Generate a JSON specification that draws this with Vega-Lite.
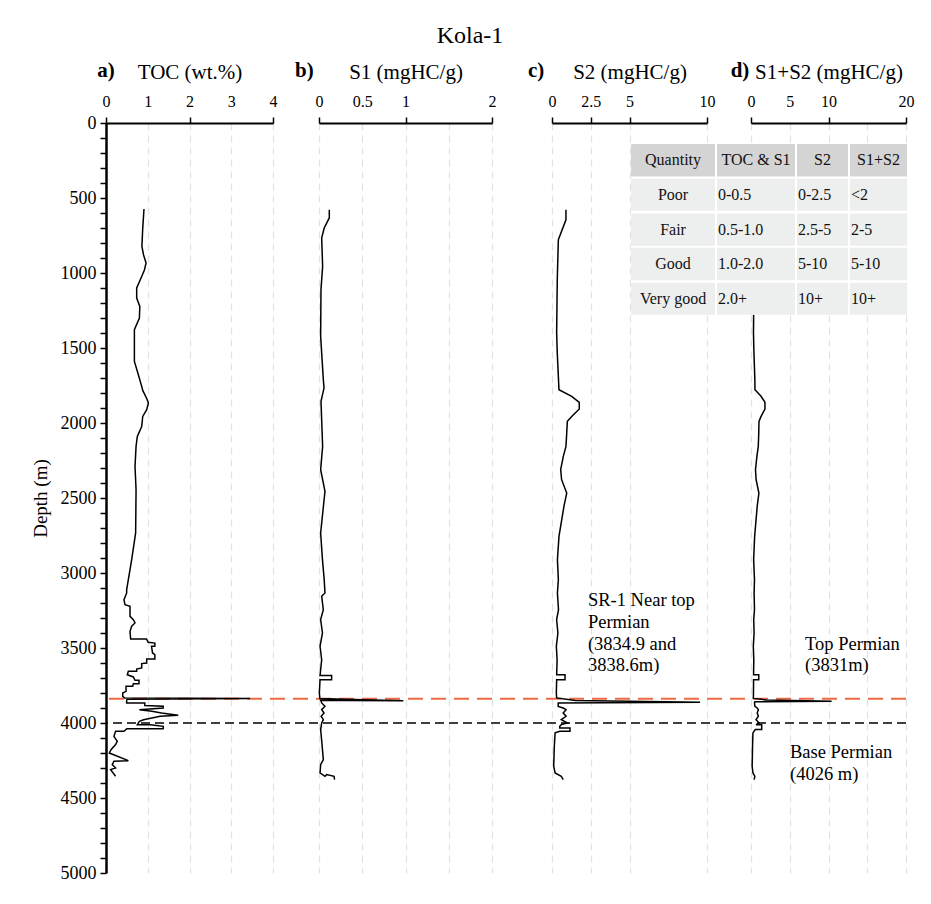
{
  "$schema": "https://vega.github.io/schema/vega-lite/v6.json",
  "width": 800,
  "height": 750,
  "autosize": "none",
  "padding": {"left": 106, "top": 123, "right": 25, "bottom": 31},
  "background": "white",
  "title": {"text": "Kola-1", "font": "Liberation Serif", "fontSize": 24, "fontWeight": "normal", "color": "black", "anchor": "middle", "dx": -36, "offset": 12},
  "config": {
    "font": "Liberation Serif",
    "view": {"stroke": null},
    "axis": {"labelFont": "Liberation Serif", "titleFont": "Liberation Serif", "labelColor": "black", "titleColor": "black", "domainColor": "black", "tickColor": "black", "titleFontWeight": "normal", "labelFlush": false, "labelOverlap": false, "labelBound": false},
    "axisX": {"labelFontSize": 16, "titleFontSize": 21, "domainWidth": 2, "tickSize": 6, "tickWidth": 1.5, "labelPadding": 8, "titlePadding": 11, "grid": true, "gridColor": "#e2e2e2", "gridDash": [7, 5], "gridWidth": 1.2},
    "axisY": {"labelFontSize": 18, "titleFontSize": 19, "domainWidth": 2.5, "tickSize": 6, "tickWidth": 1.5, "labelPadding": 4, "titlePadding": 10, "grid": false}
  },
  "datasets": {
    "toc": [
      {"d":573,"v":0.91},{"d":700,"v":0.88},{"d":823,"v":0.86},{"d":880,"v":0.9},{"d":933,"v":0.96},{"d":980,"v":0.92},{"d":1023,"v":0.855},{"d":1100,"v":0.735},{"d":1167,"v":0.735},{"d":1223,"v":0.81},{"d":1300,"v":0.8},{"d":1378,"v":0.68},{"d":1589,"v":0.68},{"d":1678,"v":0.775},{"d":1756,"v":0.855},{"d":1783,"v":0.88},{"d":1840,"v":0.98},{"d":1867,"v":1.015},{"d":1911,"v":0.975},{"d":1956,"v":0.88},{"d":2023,"v":0.855},{"d":2089,"v":0.75},{"d":2156,"v":0.72},{"d":2289,"v":0.695},{"d":2445,"v":0.72},{"d":2733,"v":0.71},{"d":2911,"v":0.615},{"d":3111,"v":0.495},{"d":3133,"v":0.495},{"d":3178,"v":0.43},{"d":3211,"v":0.455},{"d":3222,"v":0.575},{"d":3289,"v":0.575},{"d":3311,"v":0.655},{"d":3333,"v":0.695},{"d":3355,"v":0.615},{"d":3389,"v":0.575},{"d":3440,"v":0.59},{"d":3440,"v":0.97},{"d":3462,"v":1.01},{"d":3467,"v":1.17},{"d":3489,"v":1.17},{"d":3489,"v":1.09},{"d":3533,"v":1.115},{"d":3544,"v":1.17},{"d":3573,"v":1.17},{"d":3573,"v":0.975},{"d":3600,"v":0.975},{"d":3604,"v":0.855},{"d":3633,"v":0.855},{"d":3640,"v":0.735},{"d":3655,"v":0.735},{"d":3655,"v":0.535},{"d":3678,"v":0.51},{"d":3693,"v":0.655},{"d":3715,"v":0.695},{"d":3715,"v":0.79},{"d":3738,"v":0.79},{"d":3738,"v":0.655},{"d":3755,"v":0.64},{"d":3755,"v":0.48},{"d":3789,"v":0.48},{"d":3800,"v":0.4},{"d":3822,"v":0.4},{"d":3834,"v":0.45},{"d":3837,"v":3.45},{"d":3841,"v":0.5},{"d":3855,"v":0.495},{"d":3866,"v":0.495},{"d":3866,"v":0.93},{"d":3884,"v":0.93},{"d":3888,"v":1.37},{"d":3900,"v":1.37},{"d":3911,"v":0.8},{"d":3922,"v":1.1},{"d":3933,"v":1.33},{"d":3949,"v":1.73},{"d":3955,"v":1.3},{"d":3978,"v":0.9},{"d":3989,"v":0.8},{"d":4011,"v":0.75},{"d":4011,"v":1.07},{"d":4022,"v":1.37},{"d":4038,"v":1.37},{"d":4038,"v":0.5},{"d":4055,"v":0.43},{"d":4055,"v":0.23},{"d":4089,"v":0.19},{"d":4122,"v":0.27},{"d":4144,"v":0.23},{"d":4178,"v":0.12},{"d":4200,"v":0.08},{"d":4251,"v":0.535},{"d":4255,"v":0.19},{"d":4278,"v":0.15},{"d":4300,"v":0.23},{"d":4311,"v":0.11},{"d":4355,"v":0.23}
    ],
    "s1": [
      {"d":578,"v":0.119},{"d":633,"v":0.119},{"d":700,"v":0.06},{"d":767,"v":0.031},{"d":956,"v":0.042},{"d":1111,"v":0.023},{"d":1422,"v":0.019},{"d":1711,"v":0.05},{"d":1767,"v":0.058},{"d":1856,"v":0.023},{"d":2156,"v":0.042},{"d":2311,"v":0.019},{"d":2456,"v":0.069},{"d":2733,"v":0.019},{"d":2911,"v":0.04},{"d":3044,"v":0.06},{"d":3133,"v":0.069},{"d":3155,"v":0.031},{"d":3244,"v":0.05},{"d":3311,"v":0.019},{"d":3400,"v":0.04},{"d":3489,"v":0.012},{"d":3578,"v":0.031},{"d":3684,"v":0.012},{"d":3684,"v":0.146},{"d":3711,"v":0.146},{"d":3711,"v":0.012},{"d":3800,"v":0.004},{"d":3836,"v":0.01},{"d":3842,"v":0.3},{"d":3852,"v":0.975},{"d":3850,"v":0.3},{"d":3848,"v":0.02},{"d":3866,"v":0.031},{"d":3889,"v":0.069},{"d":3911,"v":0.031},{"d":3933,"v":0.058},{"d":3955,"v":0.025},{"d":3978,"v":0.05},{"d":4000,"v":0.031},{"d":4044,"v":0.019},{"d":4111,"v":0.03},{"d":4244,"v":0.05},{"d":4278,"v":0.019},{"d":4333,"v":0.012},{"d":4355,"v":0.069},{"d":4344,"v":0.089},{"d":4355,"v":0.174},{"d":4378,"v":0.18}
    ],
    "s2": [
      {"d":578,"v":0.9},{"d":645,"v":0.9},{"d":778,"v":0.41},{"d":1045,"v":0.34},{"d":1400,"v":0.3},{"d":1533,"v":0.34},{"d":1778,"v":0.45},{"d":1822,"v":1.27},{"d":1862,"v":1.76},{"d":1907,"v":1.76},{"d":1956,"v":1.27},{"d":1989,"v":0.99},{"d":2067,"v":0.95},{"d":2156,"v":0.9},{"d":2222,"v":0.73},{"d":2311,"v":0.56},{"d":2378,"v":0.62},{"d":2467,"v":0.95},{"d":2556,"v":0.77},{"d":2756,"v":0.45},{"d":2911,"v":0.35},{"d":3044,"v":0.41},{"d":3133,"v":0.35},{"d":3244,"v":0.42},{"d":3311,"v":0.3},{"d":3400,"v":0.38},{"d":3489,"v":0.28},{"d":3578,"v":0.33},{"d":3678,"v":0.3},{"d":3678,"v":0.84},{"d":3711,"v":0.84},{"d":3711,"v":0.3},{"d":3800,"v":0.28},{"d":3833,"v":0.3},{"d":3850,"v":1.5},{"d":3862,"v":9.55},{"d":3866,"v":0.4},{"d":3889,"v":0.4},{"d":3900,"v":0.72},{"d":3911,"v":0.91},{"d":3933,"v":0.72},{"d":3955,"v":0.91},{"d":3978,"v":0.6},{"d":4000,"v":1.0},{"d":4011,"v":0.6},{"d":4022,"v":0.5},{"d":4033,"v":0.5},{"d":4033,"v":1.16},{"d":4055,"v":1.16},{"d":4055,"v":0.5},{"d":4066,"v":0.2},{"d":4155,"v":0.15},{"d":4289,"v":0.11},{"d":4333,"v":0.2},{"d":4355,"v":0.6},{"d":4378,"v":0.72}
    ],
    "s12": [
      {"d":578,"v":1.0},{"d":645,"v":1.0},{"d":778,"v":0.45},{"d":1045,"v":0.38},{"d":1400,"v":0.32},{"d":1533,"v":0.38},{"d":1711,"v":0.5},{"d":1778,"v":0.51},{"d":1822,"v":1.3},{"d":1862,"v":1.8},{"d":1907,"v":1.8},{"d":1956,"v":1.3},{"d":1989,"v":1.03},{"d":2067,"v":1.0},{"d":2156,"v":0.94},{"d":2222,"v":0.76},{"d":2311,"v":0.58},{"d":2378,"v":0.66},{"d":2467,"v":1.02},{"d":2556,"v":0.8},{"d":2756,"v":0.47},{"d":2911,"v":0.34},{"d":3044,"v":0.45},{"d":3133,"v":0.4},{"d":3244,"v":0.45},{"d":3311,"v":0.35},{"d":3400,"v":0.4},{"d":3489,"v":0.3},{"d":3578,"v":0.36},{"d":3678,"v":0.33},{"d":3678,"v":1.0},{"d":3711,"v":1.0},{"d":3711,"v":0.33},{"d":3800,"v":0.32},{"d":3836,"v":0.3},{"d":3846,"v":2.0},{"d":3855,"v":10.4},{"d":3858,"v":0.5},{"d":3866,"v":0.45},{"d":3889,"v":0.5},{"d":3900,"v":0.8},{"d":3911,"v":0.95},{"d":3933,"v":0.8},{"d":3955,"v":0.95},{"d":3978,"v":0.65},{"d":4000,"v":1.05},{"d":4011,"v":0.65},{"d":4011,"v":1.38},{"d":4044,"v":1.38},{"d":4044,"v":0.55},{"d":4066,"v":0.25},{"d":4155,"v":0.2},{"d":4289,"v":0.15},{"d":4333,"v":0.25},{"d":4355,"v":0.5},{"d":4378,"v":0.4}
    ],
    "cells": [
      {"v":-15.48,"v2":20.13,"d":140,"d2":1278,"kind":"back"},
      {"v":-15.48,"v2":-4.65,"d":140,"d2":356,"kind":"header"},{"v":-4.39,"v2":5.68,"d":140,"d2":356,"kind":"header"},{"v":5.94,"v2":12.52,"d":140,"d2":356,"kind":"header"},{"v":12.77,"v2":20.13,"d":140,"d2":356,"kind":"header"},
      {"v":-15.48,"v2":-4.65,"d":371,"d2":585,"kind":"body"},{"v":-4.39,"v2":5.68,"d":371,"d2":585,"kind":"body"},{"v":5.94,"v2":12.52,"d":371,"d2":585,"kind":"body"},{"v":12.77,"v2":20.13,"d":371,"d2":585,"kind":"body"},
      {"v":-15.48,"v2":-4.65,"d":603,"d2":818,"kind":"body"},{"v":-4.39,"v2":5.68,"d":603,"d2":818,"kind":"body"},{"v":5.94,"v2":12.52,"d":603,"d2":818,"kind":"body"},{"v":12.77,"v2":20.13,"d":603,"d2":818,"kind":"body"},
      {"v":-15.48,"v2":-4.65,"d":831,"d2":1049,"kind":"body"},{"v":-4.39,"v2":5.68,"d":831,"d2":1049,"kind":"body"},{"v":5.94,"v2":12.52,"d":831,"d2":1049,"kind":"body"},{"v":12.77,"v2":20.13,"d":831,"d2":1049,"kind":"body"},
      {"v":-15.48,"v2":-4.65,"d":1065,"d2":1278,"kind":"body"},{"v":-4.39,"v2":5.68,"d":1065,"d2":1278,"kind":"body"},{"v":5.94,"v2":12.52,"d":1065,"d2":1278,"kind":"body"},{"v":12.77,"v2":20.13,"d":1065,"d2":1278,"kind":"body"}
    ],
    "centerText": [
      {"v":-10.06,"d":248,"t":"Quantity"},{"v":0.65,"d":248,"t":"TOC & S1"},{"v":9.23,"d":248,"t":"S2"},{"v":16.45,"d":248,"t":"S1+S2"},
      {"v":-10.06,"d":478,"t":"Poor"},{"v":-10.06,"d":711,"t":"Fair"},{"v":-10.06,"d":940,"t":"Good"},{"v":-10.06,"d":1171,"t":"Very good"}
    ],
    "leftText": [
      {"v":-4.26,"d":478,"t":"0-0.5"},{"v":6.06,"d":478,"t":"0-2.5"},{"v":12.9,"d":478,"t":"<2"},
      {"v":-4.26,"d":711,"t":"0.5-1.0"},{"v":6.06,"d":711,"t":"2.5-5"},{"v":12.9,"d":711,"t":"2-5"},
      {"v":-4.26,"d":940,"t":"1.0-2.0"},{"v":6.06,"d":940,"t":"5-10"},{"v":12.9,"d":940,"t":"5-10"},
      {"v":-4.26,"d":1171,"t":"2.0+"},{"v":6.06,"d":1171,"t":"10+"},{"v":12.9,"d":1171,"t":"10+"}
    ]
  },
  "encoding": {
    "y": {
      "field": "d", "type": "quantitative",
      "scale": {"domain": [0, 5000], "reverse": true, "nice": false, "zero": false},
      "axis": {
        "title": "Depth (m)", "format": "d",
        "values": [0,100,200,300,400,500,600,700,800,900,1000,1100,1200,1300,1400,1500,1600,1700,1800,1900,2000,2100,2200,2300,2400,2500,2600,2700,2800,2900,3000,3100,3200,3300,3400,3500,3600,3700,3800,3900,4000,4100,4200,4300,4400,4500,4600,4700,4800,4900,5000],
        "labelExpr": "datum.value % 500 === 0 ? datum.label : ''"
      }
    }
  },
  "layer": [
    {"data": {"values": [{"d": 3838}]}, "mark": {"type": "rule", "color": "#ee6a44", "strokeWidth": 2, "strokeDash": [15, 8]}, "encoding": {"y": {"field": "d", "type": "quantitative"}}},
    {"data": {"values": [{"d": 4000}]}, "mark": {"type": "rule", "color": "black", "strokeWidth": 1.5, "strokeDash": [9, 5]}, "encoding": {"y": {"field": "d", "type": "quantitative"}}},
    {
      "encoding": {"x": {"field": "v", "type": "quantitative", "scale": {"domain": [0, 4], "range": [0, 167], "nice": false, "zero": false},
        "axis": {"orient": "top", "title": "TOC (wt.%)", "values": [0, 1, 2, 3, 4], "grid": true,
          "labelExpr": "'' + datum.value",
          "tickOpacity": {"condition": {"test": "datum.value % 2 === 0", "value": 1}, "value": 0},
          "gridOpacity": {"condition": {"test": "datum.value === 0", "value": 0}, "value": 1}}}},
      "layer": [
        {"data": {"name": "toc"}, "mark": {"type": "line", "color": "black", "strokeWidth": 1.5, "order": false}},
        {"data": {"values": [{"v": 0, "d": -306, "t": "a)"}]}, "mark": {"type": "text", "font": "Liberation Serif", "fontSize": 21, "fontWeight": "bold", "align": "center", "baseline": "alphabetic", "color": "black"}, "encoding": {"text": {"field": "t"}}}
      ]
    },
    {
      "encoding": {"x": {"field": "v", "type": "quantitative", "scale": {"domain": [0, 2], "range": [213, 386], "nice": false, "zero": false},
        "axis": {"orient": "top", "title": "S1 (mgHC/g)", "values": [0, 0.5, 1, 1.5, 2], "grid": true,
          "labelExpr": "datum.value === 1.5 ? '' : '' + datum.value",
          "tickOpacity": {"condition": {"test": "datum.value % 1 === 0", "value": 1}, "value": 0}}}},
      "layer": [
        {"data": {"name": "s1"}, "mark": {"type": "line", "color": "black", "strokeWidth": 1.5, "order": false}},
        {"data": {"values": [{"v": -0.17, "d": -306, "t": "b)"}]}, "mark": {"type": "text", "font": "Liberation Serif", "fontSize": 21, "fontWeight": "bold", "align": "center", "baseline": "alphabetic", "color": "black"}, "encoding": {"text": {"field": "t"}}}
      ]
    },
    {
      "encoding": {"x": {"field": "v", "type": "quantitative", "scale": {"domain": [0, 10], "range": [446, 601], "nice": false, "zero": false},
        "axis": {"orient": "top", "title": "S2 (mgHC/g)", "values": [0, 2.5, 5, 10], "grid": true,
          "labelExpr": "'' + datum.value"}}},
      "layer": [
        {"data": {"name": "s2"}, "mark": {"type": "line", "color": "black", "strokeWidth": 1.5, "order": false}},
        {"data": {"values": [{"v": -1.03, "d": -306, "t": "c)"}]}, "mark": {"type": "text", "font": "Liberation Serif", "fontSize": 21, "fontWeight": "bold", "align": "center", "baseline": "alphabetic", "color": "black"}, "encoding": {"text": {"field": "t"}}},
        {"data": {"values": [{"v": 2.32, "d": 3222, "t": "SR-1 Near top\nPermian\n(3834.9 and\n3838.6m)"}]}, "mark": {"type": "text", "font": "Liberation Serif", "fontSize": 18.5, "align": "left", "baseline": "alphabetic", "lineBreak": "\n", "lineHeight": 21.7, "color": "black"}, "encoding": {"text": {"field": "t"}}}
      ]
    },
    {
      "encoding": {"x": {"field": "v", "type": "quantitative", "scale": {"domain": [0, 20], "range": [645, 800], "nice": false, "zero": false},
        "axis": {"orient": "top", "title": "S1+S2 (mgHC/g)", "values": [0, 5, 10, 15, 20], "grid": true,
          "labelExpr": "datum.value === 15 ? '' : '' + datum.value",
          "tickOpacity": {"condition": {"test": "datum.value % 10 === 0", "value": 1}, "value": 0}}}},
      "layer": [
        {"data": {"name": "s12"}, "mark": {"type": "line", "color": "black", "strokeWidth": 1.5, "order": false}},
        {"data": {"values": [{"v": -1.42, "d": -306, "t": "d)"}]}, "mark": {"type": "text", "font": "Liberation Serif", "fontSize": 21, "fontWeight": "bold", "align": "center", "baseline": "alphabetic", "color": "black"}, "encoding": {"text": {"field": "t"}}},
        {"data": {"values": [{"v": 6.97, "d": 3511, "t": "Top Permian\n(3831m)"}, {"v": 5.03, "d": 4233, "t": "Base Permian\n(4026 m)"}]}, "mark": {"type": "text", "font": "Liberation Serif", "fontSize": 18.5, "align": "left", "baseline": "alphabetic", "lineBreak": "\n", "lineHeight": 21.7, "color": "black"}, "encoding": {"text": {"field": "t"}}},
        {"data": {"name": "cells"}, "mark": {"type": "rect"}, "encoding": {"x2": {"field": "v2"}, "y2": {"field": "d2"}, "fill": {"field": "kind", "type": "nominal", "scale": {"domain": ["back", "header", "body"], "range": ["#ffffff", "#d4d4d4", "#edefee"]}, "legend": null}}},
        {"data": {"name": "centerText"}, "mark": {"type": "text", "font": "Liberation Serif", "fontSize": 16, "align": "center", "baseline": "middle", "color": "#111111"}, "encoding": {"text": {"field": "t"}}},
        {"data": {"name": "leftText"}, "mark": {"type": "text", "font": "Liberation Serif", "fontSize": 16, "align": "left", "baseline": "middle", "color": "#111111"}, "encoding": {"text": {"field": "t"}}}
      ]
    }
  ],
  "resolve": {"scale": {"x": "independent"}, "axis": {"x": "independent"}}
}
